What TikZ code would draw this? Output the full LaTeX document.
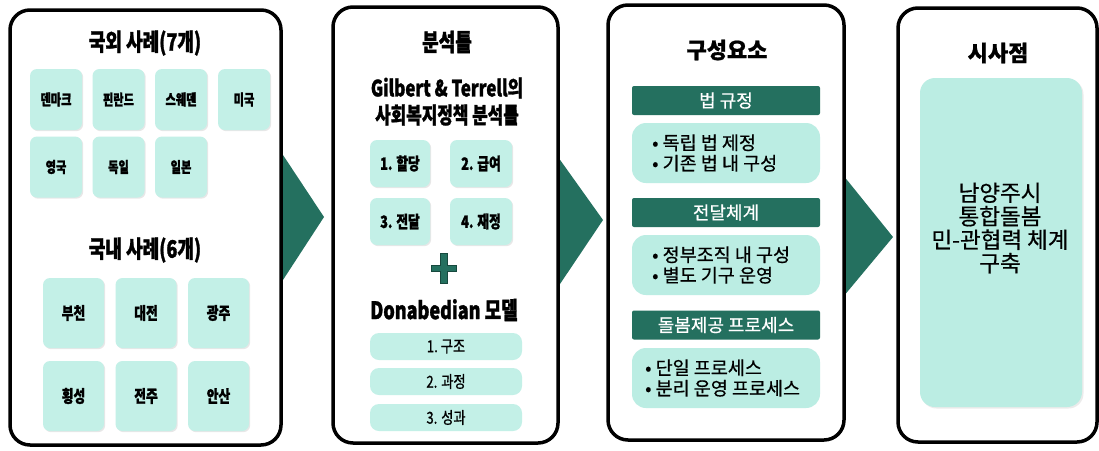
\documentclass[tikz,border=0pt]{standalone}
\usepackage{fontspec}
\setmainfont{Noto Sans CJK KR}
\newfontfamily\kc{Noto Sans CJK KR}[FakeStretch=0.75, BoldFeatures={FakeBold=1.2}]
\newfontfamily\kcm{Noto Sans CJK KR}[FakeStretch=0.8, FakeBold=0.8]
\newfontfamily\kr{Noto Sans CJK KR}[FakeBold=0.6, BoldFeatures={FakeBold=0.8}]
\usetikzlibrary{shadows}
\definecolor{dg}{HTML}{24705F}
\definecolor{mint}{HTML}{C3F0E7}
\definecolor{mint2}{HTML}{BBEDE3}
\begin{document}
\begin{tikzpicture}[x=1pt,y=-1pt,
  panel/.style={draw=black, line width=3.5pt, rounded corners=20pt, fill=white, inner sep=0pt},
  tile/.style={fill=mint, rounded corners=7pt, inner sep=0pt,
    drop shadow={shadow xshift=1.2pt,shadow yshift=-1.2pt,fill=black!18}},
  pill/.style={fill=mint, rounded corners=9pt, inner sep=0pt, minimum width=152pt, minimum height=27pt,
    font=\kcm\fontsize{16.5}{16.5}\selectfont},
  bar/.style={fill=dg, rounded corners=2pt, inner sep=0pt, minimum width=188pt, minimum height=29pt,
    text=white, font=\kr\fontsize{18}{18}\selectfont},
  soft/.style={fill=mint2, rounded corners=14pt, inner sep=0pt, minimum width=188pt, minimum height=60pt},
  bul/.style={anchor=west, align=left, inner sep=0pt, font=\kr\fontsize{18.5}{20.5}\selectfont},
  head/.style={font=\kc\bfseries\fontsize{24}{24}\selectfont},
  headr/.style={font=\kr\bfseries\fontsize{22}{22}\selectfont},
  lab/.style={font=\kc\bfseries\fontsize{15}{15}\selectfont},
  labb/.style={font=\kc\bfseries\fontsize{17}{17}\selectfont},
  chev/.style={fill=dg}
]
\useasboundingbox (0,0) rectangle (1099,450);

% chevron arrows (behind panels)
\fill[chev] (281,152) -- (324,217) -- (281,283) -- cycle;
\fill[chev] (558,157) -- (603,220) -- (558,287) -- cycle;
\fill[chev] (843,175) -- (893,237) -- (843,297) -- cycle;

% panels
\node[panel, minimum width=271pt, minimum height=435pt] (p1) at (145.5,227.5) {};
\node[panel, minimum width=225pt, minimum height=436pt] (p2) at (445.5,225) {};
\node[panel, minimum width=236pt, minimum height=435pt] (p3) at (726,222.5) {};
\node[panel, minimum width=199pt, minimum height=434pt] (p4) at (997.5,225) {};

% panel 1
\node[head] (t1) at (145,43) {국외 사례(7개)};
\foreach \n/\t/\x/\y in {a/덴마크/56/99.5, b/핀란드/118.5/99.5, c/스웨덴/181/99.5, d/미국/244/99.5,
                         e/영국/56/167, f/독일/118.5/167, g/일본/181/167}{
  \node[tile, lab, minimum width=52pt, minimum height=61pt] (f\n) at (\x,\y) {\t};
}
\node[head] (t2) at (145,250) {국내 사례(6개)};
\foreach \n/\t/\x/\y in {a/부천/73.5/313, b/대전/146/313, c/광주/218.5/313,
                         d/횡성/73.5/396, e/전주/146/396, f/안산/218.5/396}{
  \node[tile, labb, minimum width=61pt, minimum height=70pt] (k\n) at (\x,\y) {\t};
}

% panel 2
\node[head] (t3) at (447,42) {분석틀};
\node[head, align=center, font=\kc\bfseries\fontsize{22.5}{27}\selectfont] (t4) at (447,101.5) {Gilbert \& Terrell의\\사회복지정책 분석틀};
\node[tile, labb, minimum width=60pt, minimum height=47pt] (g1) at (400,163.5) {1. 할당};
\node[tile, labb, minimum width=62pt, minimum height=47pt] (g2) at (481,163.5) {2. 급여};
\node[tile, labb, minimum width=60pt, minimum height=47pt] (g3) at (400,221.5) {3. 전달};
\node[tile, labb, minimum width=62pt, minimum height=47pt] (g4) at (481,221.5) {4. 재정};
\filldraw[fill=dg, draw=dg!65!black, line width=0.8pt]
  (440.5,253.5) -- (447,253.5) -- (447,265) -- (456,265) -- (456,271.5) -- (447,271.5) -- (447,283)
  -- (440.5,283) -- (440.5,271.5) -- (431.5,271.5) -- (431.5,265) -- (440.5,265) -- cycle;
\node[head, font=\kc\bfseries\fontsize{24}{24}\selectfont] (t5) at (444,310) {Donabedian 모델};
\node[pill] (d1) at (446,346.5) {1.\ 구조};
\node[pill] (d2) at (446,381.5) {2. 과정};
\node[pill] (d3) at (446,417.5) {3. 성과};

% panel 3
\node[headr] (t6) at (727,50) {구성요소};
\node[bar] (r1) at (726,100.5) {법 규정};
\node[soft] (s1) at (726,153) {};
\node[bul] (u1) at (652,153) {•\ 독립 법 제정\\•\ 기존 법 내 구성};
\node[bar] (r2) at (726,212.5) {전달체계};
\node[soft] (s2) at (726,265) {};
\node[bul] (u2) at (652,265) {•\ 정부조직 내 구성\\•\ 별도 기구 운영};
\node[bar] (r3) at (726,325) {돌봄제공 프로세스};
\node[soft] (s3) at (726,378) {};
\node[bul] (u3) at (645,378) {•\ 단일 프로세스\\•\ 분리 운영 프로세스};

% panel 4
\node[headr] (t7) at (998,53) {시사점};
\node[fill=mint2, rounded corners=15pt, minimum width=162pt, minimum height=329pt,
  drop shadow={shadow xshift=1.5pt,shadow yshift=-1.5pt,fill=black!15}] (q) at (1001,242.5) {};
\node[align=center, font=\kr\fontsize{22.5}{23.5}\selectfont] (qt) at (1000,228) {남양주시\\통합돌봄\\민-관협력 체계\\구축};
\end{tikzpicture}
\end{document}
